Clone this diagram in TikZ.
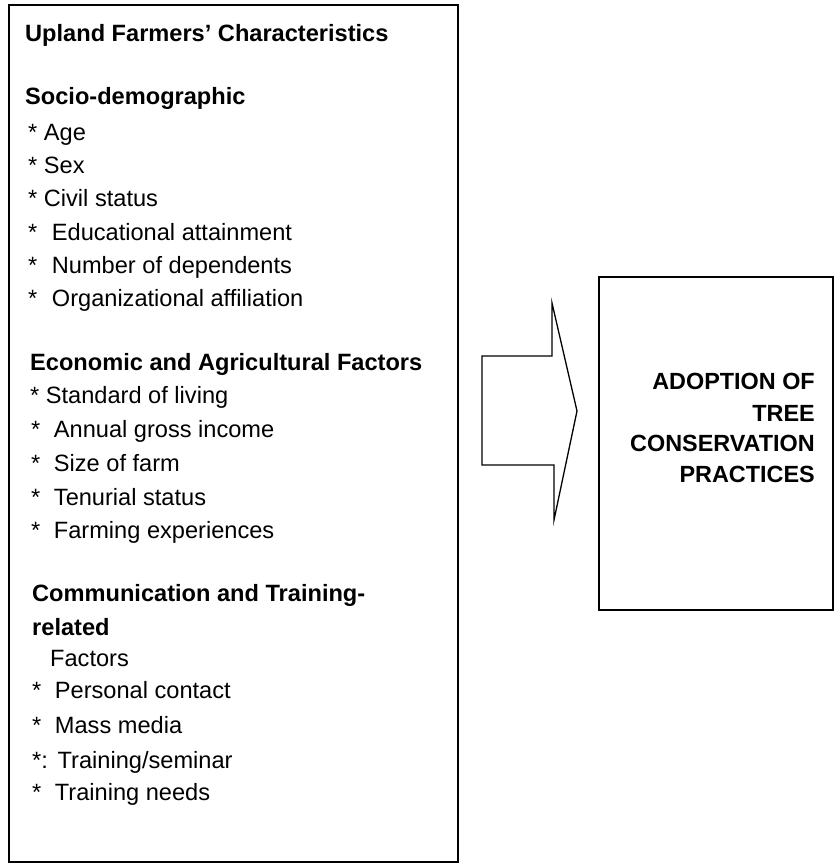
\documentclass[tikz,border=0pt]{standalone}
\usepackage{fontspec}
\setmainfont{Liberation Sans}
\begin{document}
\begin{tikzpicture}[x=1pt,y=-1pt,
  boxline/.style={draw=black,line width=1.8pt},
  arrowline/.style={draw=black,line width=1.3pt,line join=miter},
  txt/.style={inner sep=0pt,anchor=base west,font=\fontsize{23.6}{30}\selectfont},
  hd/.style={txt,font=\fontsize{23.6}{30}\selectfont\bfseries},
  rt/.style={inner sep=0pt,anchor=base east,font=\fontsize{23.4}{30}\selectfont\bfseries}]
\useasboundingbox (0,0) rectangle (835,863);
% boxes
\draw[boxline] (9,5) rectangle (458,862);
\draw[boxline] (599,277) rectangle (833,610);
% block arrow
\coordinate (a1) at (482,356);
\coordinate (a2) at (552,356);
\coordinate (a3) at (552,303);
\coordinate (a4) at (577,411);
\coordinate (a5) at (554,520);
\coordinate (a6) at (554,465);
\coordinate (a7) at (482,465);
\draw[arrowline] (a1) -- (a2) -- (a3) -- (a4) -- (a5) -- (a6) -- (a7) -- cycle;
% left texts
\node[hd] (t1) at (25,41) {Upland Farmers’ Characteristics};
\node[hd] (t2) at (25,104) {Socio-demographic};
\node[txt] (t3) at (28,140) {* Age};
\node[txt] (t4) at (28,173) {* Sex};
\node[txt] (t5) at (28,206) {* Civil status};
\node[txt] (t6) at (28,240) {*\hspace{8pt} Educational attainment};
\node[txt] (t7) at (28,273) {*\hspace{8pt} Number of dependents};
\node[txt] (t8) at (28,306) {*\hspace{8pt} Organizational affiliation};
\node[hd] (t9) at (30,370) {Economic and Agricultural Factors};
\node[txt] (t10) at (30,403) {* Standard of living};
\node[txt] (t11) at (31,437) {*\hspace{7pt} Annual gross income};
\node[txt] (t12) at (31,471) {*\hspace{7pt} Size of farm};
\node[txt] (t13) at (31,505) {*\hspace{7pt} Tenurial status};
\node[txt] (t14) at (31,538) {*\hspace{7pt} Farming experiences};
\node[hd] (t15) at (32,601) {Communication and Training-};
\node[hd] (t16) at (32,635) {related};
\node[txt] (t17) at (50,666) {Factors};
\node[txt] (t18) at (32,698) {*\hspace{7pt} Personal contact};
\node[txt] (t19) at (32,733) {*\hspace{7pt} Mass media};
\node[txt] (t20) at (32,768) {*:\hspace{1pt} Training/seminar};
\node[txt] (t21) at (32,800) {*\hspace{7pt} Training needs};
% right texts
\node[rt] (r1) at (815,389) {ADOPTION OF};
\node[rt] (r2) at (815,421) {TREE};
\node[rt] (r3) at (815,451) {CONSERVATION};
\node[rt] (r4) at (815,482) {PRACTICES};
\end{tikzpicture}
\end{document}
